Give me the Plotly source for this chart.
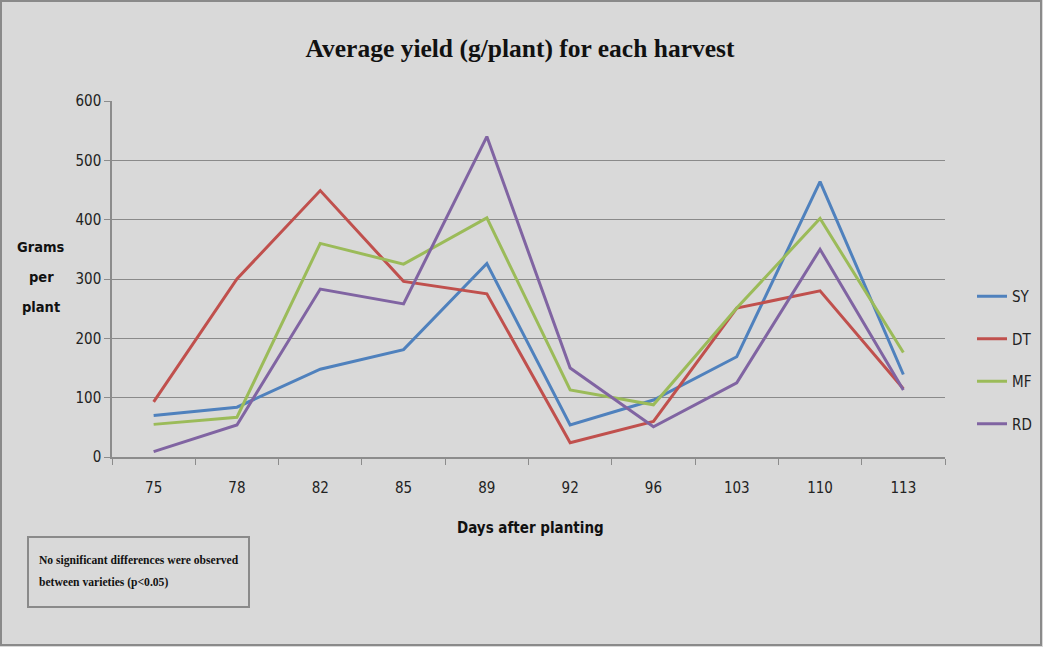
import plotly.graph_objects as go

days = ["75", "78", "82", "85", "89", "92", "96", "103", "110", "113"]
sy = [70, 84, 148, 181, 326, 54, 96, 169, 464, 139]
dt = [93, 300, 449, 296, 275, 24, 60, 251, 280, 115]
mf = [55, 67, 360, 325, 403, 113, 88, 251, 402, 176]
rd = [9, 54, 283, 258, 540, 150, 51, 125, 350, 113]

series = [("SY", sy, "#4F81BD"), ("DT", dt, "#C0504D"), ("MF", mf, "#9BBB59"), ("RD", rd, "#8064A2")]
y_title_lines = ["Grams", "per", "plant"]
note_lines = ["No significant differences were observed", "between varieties (p<0.05)"]

W, H = 1043, 647
L, R, T, B = 112, 945, 101, 457
pw, ph = R - L, B - T

def px(x):
    return (x - L) / pw

def py(y):
    return (B - y) / ph

cond = "DejaVu Sans Condensed, Liberation Sans Narrow, sans-serif"
serif = "Liberation Serif, Times New Roman, serif"

fig = go.Figure()
for name, vals, col in series:
    fig.add_trace(go.Scatter(x=days, y=vals, mode="lines", name=name, legendgroup=name,
                             line=dict(color=col, width=3)))

fig.update_layout(
    width=W, height=H,
    margin=dict(l=L, r=W - R, t=T, b=H - B, autoexpand=False),
    paper_bgcolor="#d9d9d9", plot_bgcolor="#d9d9d9",
    showlegend=True,
    legend=dict(x=px(972), y=py(280), xanchor="left", yanchor="top",
                font=dict(family=cond, size=15, color="#222"),
                tracegroupgap=20, itemwidth=30, bgcolor="rgba(0,0,0,0)"),
    title=dict(text="<b>Average yield (g/plant) for each harvest</b>", x=px(520), xanchor="center",
               xref="paper", y=1 - 48 / H, yanchor="middle",
               font=dict(family=serif, size=25.5, color="#111")),
    xaxis=dict(type="category", range=[-0.5, len(days) - 0.5], showline=True, linecolor="#8c8c8c",
               linewidth=1.5, ticks="outside", tickson="boundaries", ticklen=6, tickcolor="#8c8c8c",
               showgrid=False, ticklabelstandoff=16,
               tickfont=dict(family=cond, size=15, color="#222")),
    yaxis=dict(range=[0, 600], dtick=100, showline=True, linecolor="#8c8c8c", linewidth=1.5,
               ticks="outside", ticklen=6, tickcolor="#8c8c8c",
               showgrid=True, gridcolor="#8a8a8a", gridwidth=1, zeroline=False,
               tickfont=dict(family=cond, size=15, color="#222")),
)

# outer frame
fig.add_shape(type="rect", xref="paper", yref="paper", x0=px(1), x1=px(W - 2), y0=py(1), y1=py(H - 2),
              line=dict(color="#8a8a8a", width=2), fillcolor="rgba(0,0,0,0)", layer="below")

# x axis title
fig.add_annotation(xref="paper", yref="paper", x=px(530), y=py(528), xanchor="center", yanchor="middle",
                   text="<b>Days after planting</b>", showarrow=False,
                   font=dict(family=cond, size=15, color="#111"))

# y axis title
for i, t in enumerate(y_title_lines):
    fig.add_annotation(xref="paper", yref="paper", x=px(41), y=py(247 + 30 * i), xanchor="center",
                       yanchor="middle", text="<b>%s</b>" % t, showarrow=False,
                       font=dict(family=cond, size=14.5, color="#111"))

# note box
fig.add_shape(type="rect", xref="paper", yref="paper", x0=px(28), x1=px(249), y0=py(537), y1=py(607),
              line=dict(color="#8a8a8a", width=2), fillcolor="rgba(0,0,0,0)")
for i, t in enumerate(note_lines):
    fig.add_annotation(xref="paper", yref="paper", x=px(37), y=py(560 + 22 * i), xanchor="left",
                       yanchor="middle", text="<b>%s</b>" % t.replace("<", "&lt;"), showarrow=False,
                       align="left", font=dict(family=serif, size=11.6, color="#111"))

fig.write_html("out.html")
